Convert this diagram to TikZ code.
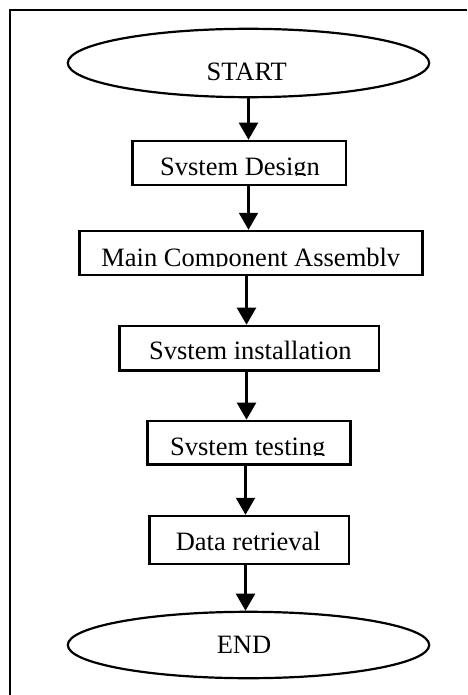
\documentclass[tikz,border=0pt]{standalone}
\usepackage{fontspec}
\setmainfont{Liberation Serif}
\usetikzlibrary{shapes.geometric,arrows.meta}
\tikzset{
  stepbox/.style={draw, line width=2.5pt, inner sep=0pt, rectangle},
  term/.style={draw, line width=2.2pt, inner sep=0pt, ellipse, minimum width=361.4pt},
  lbl/.style={inner sep=0pt, font=\fontsize{26.5}{30}\selectfont},
  flow/.style={line width=2.2pt, -{Triangle[width=19pt,length=17pt]}},
  frame/.style={line width=2.6pt}
}
\begin{document}
\begin{tikzpicture}[x=1pt,y=-1pt]
\useasboundingbox (0,0) rectangle (467,695);
\fill[white] (0,0) rectangle (467,695);
\draw[frame] (10,695) -- (10,10) -- (467,10);

\node[term, minimum height=68.4pt] (start) at (248.5,63) {};
\node[lbl, anchor=base] (startt) at (246.7,80.7) {START};

\node[stepbox, minimum width=213.5pt, minimum height=44pt] (sd) at (239.3,163) {};
\begin{scope}
\clip (130,140) rectangle (350,175.7);
\node[lbl, anchor=base] (sdt) at (240,175.2) {Svstem Design};
\end{scope}

\node[stepbox, minimum width=343pt, minimum height=44pt] (mca) at (250.8,253) {};
\begin{scope}
\clip (78,230) rectangle (424,266);
\node[lbl, anchor=base] (mcat) at (250.8,266.2) {Main Component Assemblv};
\end{scope}

\node[stepbox, minimum width=259.7pt, minimum height=44.7pt] (inst) at (249.2,348.3) {};
\begin{scope}
\clip (118,325) rectangle (381,359.4);
\node[lbl, anchor=base] (instt) at (250.3,359.2) {Svstem installation};
\end{scope}

\node[stepbox, minimum width=203pt, minimum height=43.7pt] (test) at (249.2,442.8) {};
\begin{scope}
\clip (146,420) rectangle (352,455.2);
\node[lbl, anchor=base] (testt) at (247.8,455.2) {Svstem testing};
\end{scope}

\node[stepbox, minimum width=199.7pt, minimum height=48pt] (data) at (249.2,540) {};
\node[lbl, anchor=base] (datat) at (248.3,550.7) {Data retrieval};

\node[term, minimum height=66.4pt] (end) at (248.5,645) {};
\node[lbl, anchor=base] (endt) at (244,653) {END};

\draw[flow] (start.south) -- (sd.north -| start.south);
\draw[flow] (sd.south -| start.south) -- (mca.north -| start.south);
\draw[flow] ([xshift=-2pt]mca.south -| start.south) -- ([xshift=-2pt]inst.north -| start.south);
\draw[flow] ([xshift=-2pt]inst.south -| start.south) -- ([xshift=-2pt]test.north -| start.south);
\draw[flow] ([xshift=-3pt]test.south -| start.south) -- ([xshift=-3pt]data.north -| start.south);
\draw[flow] ([xshift=-3pt]data.south -| start.south) -- ([xshift=-3pt]end.north -| start.south);
\end{tikzpicture}
\end{document}
